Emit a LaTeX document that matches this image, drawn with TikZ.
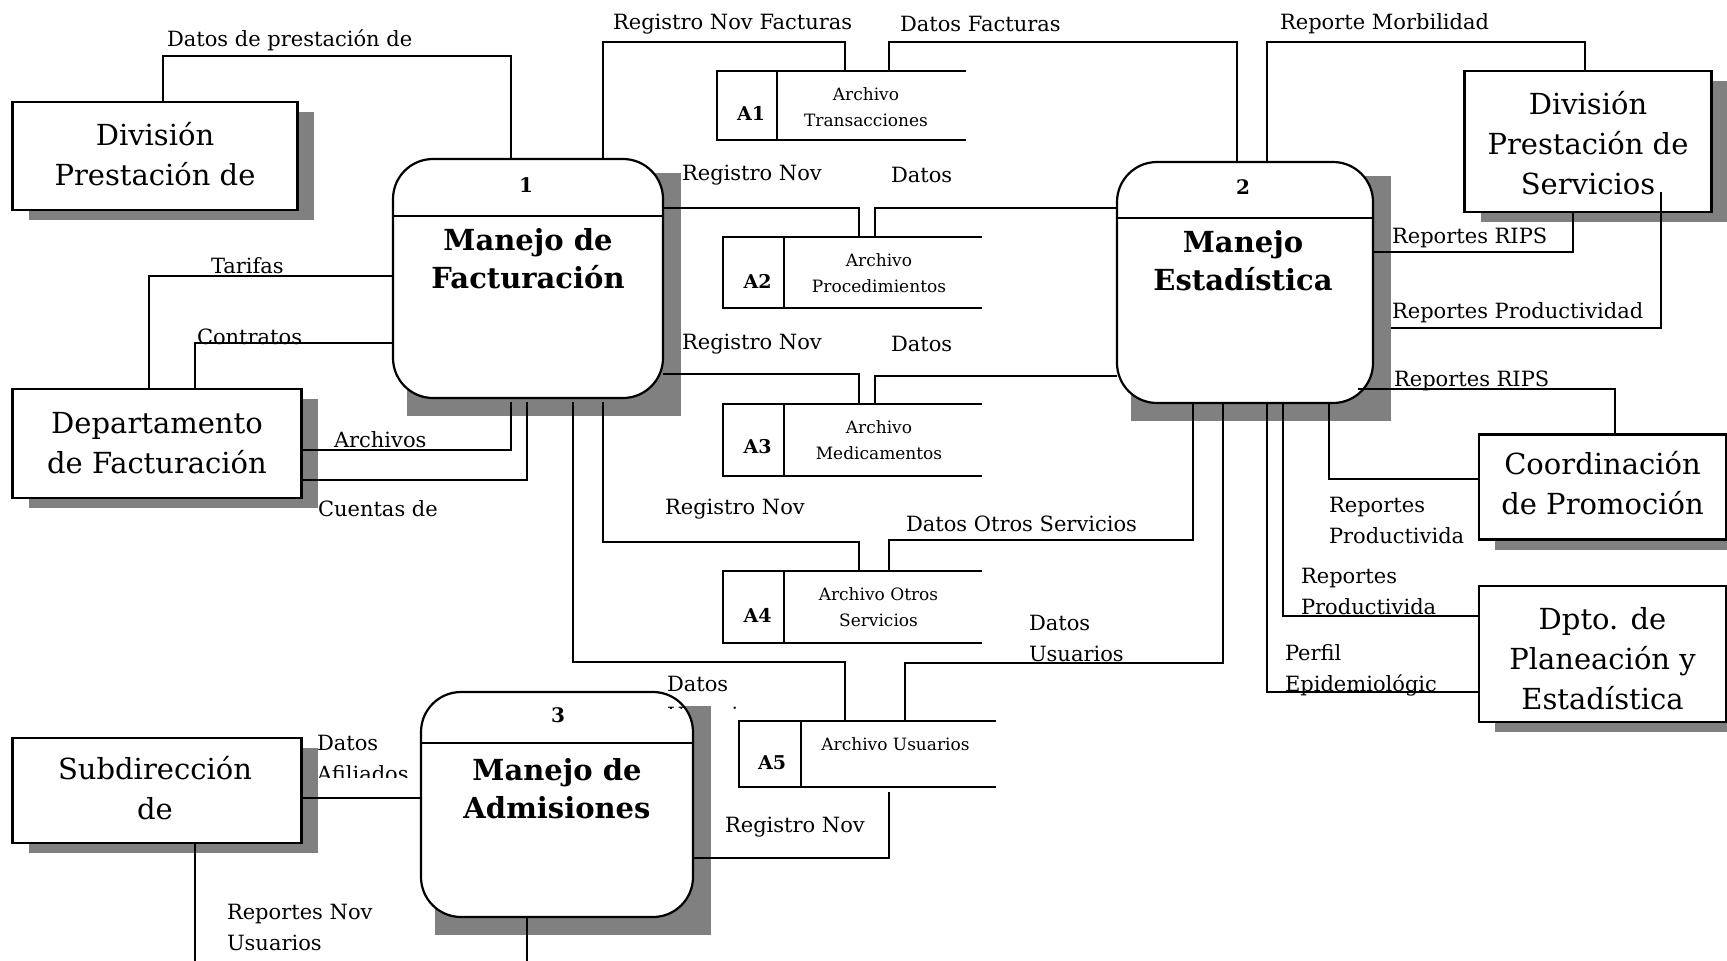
\documentclass[tikz,border=0pt]{standalone}
\usepackage{fontspec}
\setmainfont{DejaVu Serif}
\usetikzlibrary{calc}
\definecolor{shadowgray}{RGB}{128,128,128}
\pgfdeclarelayer{shadowlayer}
\pgfsetlayers{shadowlayer,main}

% open-ended data store outline: #1 node, #2 width of the id compartment
\newcommand\drawstore[2]{%
  \draw[flow] (#1.north east) -- (#1.north west) -- (#1.south west) -- (#1.south east);
  \draw[flow] ($(#1.north west)+(#2,0)$) -- ($(#1.south west)+(#2,0)$);}

\tikzset{
  flow/.style={line width=2pt},
  ent/.style={draw, line width=2.2pt, fill=white, inner sep=0pt},
  enttext/.style={inner sep=0pt, align=center, font=\fontsize{29}{40}\selectfont},
  proc/.style={draw, line width=2.2pt, fill=white, rounded corners=40pt, inner sep=0pt},
  pnum/.style={inner sep=0pt, font=\bfseries\fontsize{20}{24}\selectfont},
  ptitle/.style={inner sep=0pt, align=center, font=\bfseries\fontsize{29}{38}\selectfont},
  store/.style={inner sep=0pt, draw=none},
  sid/.style={inner sep=0pt, font=\bfseries\fontsize{19}{24}\selectfont},
  sname/.style={inner sep=0pt, align=center, font=\fontsize{17}{26}\selectfont},
  lbl/.style={inner sep=0pt, anchor=west, align=left, font=\fontsize{21}{31}\selectfont},
}

\begin{document}
\begin{tikzpicture}[x=1pt,y=-1pt, every node/.append style={outer sep=0pt}]
\useasboundingbox (0,0) rectangle (1727,961);

% external entities
\node[ent, minimum width=285, minimum height=108] (E1) at (155,156) {};
\node[ent, minimum width=289, minimum height=109] (E2) at (157,443.5) {};
\node[ent, minimum width=289, minimum height=105] (E3) at (157,790.5) {};
\node[ent, minimum width=247, minimum height=141] (E4) at (1588,141.5) {};
\node[ent, minimum width=247, minimum height=105] (E5) at (1602.5,487) {};
\node[ent, minimum width=247, minimum height=136] (E6) at (1602.5,654) {};
\node[enttext] (E1t) at (155,154) {División\\Prestación de};
\node[enttext] (E2t) at (157,443) {Departamento\\de Facturación};
\node[enttext] (E3t) at (155,788) {Subdirección\\de};
\node[enttext] (E4t) at (1588,143.5) {División\\Prestación de\\Servicios};
\node[enttext] (E5t) at (1602.5,483.5) {Coordinación\\de Promoción};
\node[enttext] (E6t) at (1602.5,658.5) {Dpto. de\\Planeación y\\Estadística};

% processes
\node[proc, minimum width=270, minimum height=239] (P1) at (528,278.5) {};
\node[proc, minimum width=256, minimum height=241] (P2) at (1245,282.5) {};
\node[proc, minimum width=272, minimum height=225] (P3) at (557,804.5) {};
\draw[line width=2.2pt] ($(P1.north west)+(0,57)$) -- ($(P1.north east)+(0,57)$);
\draw[line width=2.2pt] ($(P2.north west)+(0,56)$) -- ($(P2.north east)+(0,56)$);
\draw[line width=2.2pt] ($(P3.north west)+(0,51)$) -- ($(P3.north east)+(0,51)$);
\node[pnum] (P1n) at (526,185) {1};
\node[ptitle] (P1t) at (528,259) {Manejo de\\Facturación};
\node[pnum] (P2n) at (1243,187) {2};
\node[ptitle] (P2t) at (1243,261) {Manejo\\Estadística};
\node[pnum] (P3n) at (558,715) {3};
\node[ptitle] (P3t) at (557,789) {Manejo de\\Admisiones};

% data stores
\node[store, minimum width=249, minimum height=69] (A1) at (841.5,105.5) {};
\node[store, minimum width=259, minimum height=71] (A2) at (852.5,272.5) {};
\node[store, minimum width=259, minimum height=72] (A3) at (852.5,440) {};
\node[store, minimum width=259, minimum height=72] (A4) at (852.5,607) {};
\node[store, minimum width=256.5, minimum height=66] (A5) at (867.25,754) {};
\drawstore{A1}{60}
\drawstore{A2}{61}
\drawstore{A3}{61}
\drawstore{A4}{61}
\drawstore{A5}{62}
\node[sid] (A1i) at (751,113) {A1};
\node[sname] (A1n) at (866,107) {Archivo\\Transacciones};
\node[sid] (A2i) at (757.5,281) {A2};
\node[sname] (A2n) at (879,273) {Archivo\\Procedimientos};
\node[sid] (A3i) at (757.5,447) {A3};
\node[sname] (A3n) at (879,440.5) {Archivo\\Medicamentos};
\node[sid] (A4i) at (757.5,615) {A4};
\node[sname] (A4n) at (878.5,607) {Archivo Otros\\Servicios};
\node[sid] (A5i) at (772,763) {A5};
\node[sname] (A5n) at (895.5,744) {Archivo Usuarios};

% shadows
\begin{pgfonlayer}{shadowlayer}
  \foreach \e in {E1,E2,E3,E4,E5,E6}
    \fill[shadowgray] ($(\e.north west)+(16,10)$) rectangle ($(\e.south east)+(16,10)$);
  \foreach \p in {P1,P2,P3}
    \fill[shadowgray] ($(\p.north west)+(14,14)$) rectangle ($(\p.south east)+(18,18)$);
\end{pgfonlayer}

% flows around process 1
\draw[flow] (E1.north -| 162.5,0) |- (510.7,56) -- (P1.north -| 510.7,0);
\draw[flow] (P1.west |- 0,276) -| (E2.north -| 148.7,0);
\draw[flow] (P1.west |- 0,343) -| (E2.north -| 195,0);
\draw[flow, shorten >=4pt] (E2.east |- 0,450) -| (P1.south -| 510.7,0);
\draw[flow, shorten >=4pt] (E2.east |- 0,480) -| (P1.south -| 527,0);
\draw[flow] (P1.north -| 603,0) |- (845,42) -- (A1.north -| 845,0);
\draw[flow] (A1.north -| 889,0) |- (1237,42) -- (P2.north -| 1237,0);
\draw[flow] (P2.north -| 1267,0) |- (1585,42) -- (E4.north -| 1585,0);
\draw[flow] (P1.east |- 0,208) -| (A2.north -| 859,0);
\draw[flow] (A2.north -| 874.5,0) |- (P2.west |- 0,208);
\draw[flow] (P1.east |- 0,374) -| (A3.north -| 859,0);
\draw[flow] (A3.north -| 874.5,0) |- (P2.west |- 0,376);
\draw[flow, shorten <=4pt] (P1.south -| 603,0) |- (859,542) -- (A4.north -| 859,0);
\draw[flow] (A4.north -| 889,0) |- (1193,540) -- (P2.south -| 1193,0);
\draw[flow, shorten <=4pt] (P1.south -| 573,0) |- (845,662) -- (A5.north -| 845,0);
\draw[flow] (A5.north -| 905,0) |- (1223,663) -- (P2.south -| 1223,0);

% flows around process 3
\draw[flow, shorten >=5pt] (P3.east |- 0,858) -| (A5.south -| 889,0);
\draw[flow] (E3.east |- 0,798) -- (P3.west |- 0,798);
\coordinate (outA) at (195,961);
\coordinate (outB) at (527,961);
\draw[flow] (E3.south -| 195,0) -- (outA);
\draw[flow] (P3.south -| 527,0) -- (outB);

% flows around process 2
\draw[flow] (P2.east |- 0,252) -| (E4.south -| 1573,0);
\draw[flow] ($(P2.east |- 0,328)+(18,0)$) -| ($(E4.south -| 1661,0)+(0,-20)$);
\draw[flow] ($(P2.south east)+(-15,-14)$) -| (E5.north -| 1615,0);
\draw[flow] (P2.south -| 1329,0) |- (E5.west |- 0,479);
\draw[flow] (P2.south -| 1283,0) |- (E6.west |- 0,616);
\draw[flow] (P2.south -| 1267,0) |- (E6.west |- 0,692);

% flow labels
\node[lbl] (L1) at (167,40.5) {Datos de prestación de};
\node[lbl] (L2) at (613,24) {Registro Nov Facturas};
\node[lbl] (L3) at (900,24) {Datos Facturas};
\node[lbl] (L4) at (1280,24) {Reporte Morbilidad};
\node[lbl] (L5) at (682,175) {Registro Nov};
\node[lbl] (L6) at (891,175) {Datos};
\node[lbl] (L7) at (682,344) {Registro Nov};
\node[lbl] (L8) at (891,344) {Datos};
\node[lbl] (L9) at (665,509) {Registro Nov};
\node[lbl] (L10) at (906,524) {Datos Otros Servicios};
\node[lbl] (L11) at (1029,638.5) {Datos\\Usuarios};
\node[lbl] (L13) at (725,827) {Registro Nov};
\node[lbl] (L15) at (227,927.5) {Reportes Nov\\Usuarios};
\node[lbl] (L16) at (211,266) {Tarifas};
\node[lbl] (L17) at (197,337) {Contratos};
\node[lbl] (L18) at (334,440) {Archivos};
\node[lbl] (L19) at (318,509) {Cuentas de};
\node[lbl] (L20) at (1392,237.5) {Reportes RIPS};
\node[lbl] (L21) at (1392,313) {Reportes Productividad};
\node[lbl] (L22) at (1394,380.5) {Reportes RIPS};
\node[lbl] (L23) at (1329,520) {Reportes\\Productivida};
\node[lbl] (L24) at (1301,591.5) {Reportes\\Productivida};
\node[lbl] (L25) at (1285,670) {Perfil\\Epidemiológic};
\begin{scope}
  \clip (655,665) rectangle (760,708);
  \node[lbl] (L12) at (667,699) {Datos\\Usuarios};
\end{scope}
\begin{scope}
  \clip (305,720) rectangle (420,777);
  \node[lbl] (L14) at (317,758.5) {Datos\\Afiliados};
\end{scope}
\end{tikzpicture}
\end{document}
